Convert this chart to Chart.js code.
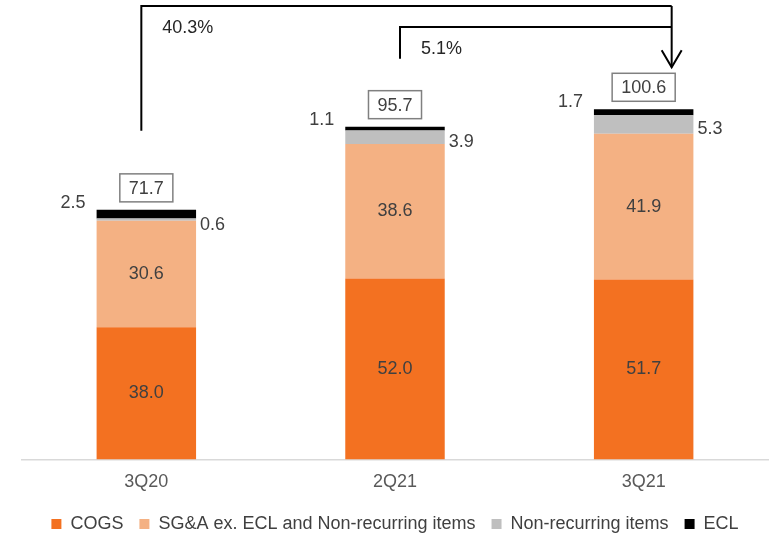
<!DOCTYPE html>
<html>
<head>
<meta charset="utf-8">
<script src="https://cdn.jsdelivr.net/npm/chart.js@4.4.0/dist/chart.umd.min.js"></script>
<style>
  html, body { margin: 0; padding: 0; background: #fff; }
  #wrap { width: 769px; height: 535px; position: relative; }
</style>
</head>
<body>
<div id="wrap"><canvas id="costChart"></canvas></div>
<script>
// Cost breakdown by quarter
const quarters = ['3Q20', '2Q21', '3Q21'];
const cogs = [38.0, 52.0, 51.7];
const sga = [30.6, 38.6, 41.9];
const nonRecurring = [0.6, 3.9, 5.3];
const ecl = [2.5, 1.1, 1.7];
const totals = [71.7, 95.7, 100.6];
// growth brackets: start quarter index and label (all end at the last quarter)
const growthFrom = [0, 1];
const growthLabels = ['40.3%', '5.1%'];

const FONT = '"Liberation Sans", Arial, sans-serif';
const LEGEND_SHIFT = 2;

const annotate = {
  id: 'annotate',
  afterUpdate(chart) {
    // nudge the legend row vertically without touching the plot area
    const lg = chart.legend;
    if (lg && !lg._nudged) {
      const orig = lg.draw.bind(lg);
      lg.draw = function () {
        this.ctx.save();
        this.ctx.translate(0, LEGEND_SHIFT);
        orig();
        this.ctx.restore();
      };
      lg._nudged = true;
    }
  },
  afterDatasetsDraw(chart) {
    const ctx = chart.ctx;
    const xs = chart.scales.x;
    const top = chart.chartArea.top;
    const cogsMeta = chart.getDatasetMeta(0);
    const sgaMeta = chart.getDatasetMeta(1);
    const nrMeta = chart.getDatasetMeta(2);
    const eclMeta = chart.getDatasetMeta(3);

    ctx.save();
    ctx.font = '18px ' + FONT;
    ctx.textBaseline = 'middle';

    // values inside the big segments
    [[cogsMeta, cogs], [sgaMeta, sga]].forEach(([meta, vals]) => {
      meta.data.forEach((bar, i) => {
        ctx.fillStyle = '#404040';
        ctx.textAlign = 'center';
        ctx.fillText(vals[i].toFixed(1), bar.x, (bar.y + bar.base) / 2);
      });
    });

    const boxTops = [];
    eclMeta.data.forEach((bar, i) => {
      const stackTop = bar.y;
      const left = bar.x - bar.width / 2;
      const right = bar.x + bar.width / 2;

      // ECL on the left
      ctx.fillStyle = '#404040';
      ctx.textAlign = 'right';
      ctx.fillText(ecl[i].toFixed(1), left - 11, stackTop - 7);

      // Non-recurring on the right
      const nr = nrMeta.data[i];
      ctx.textAlign = 'left';
      ctx.fillText(nonRecurring[i].toFixed(1), right + 4, (nr.y + nr.base) / 2 + 5);

      // boxed total
      const txt = totals[i].toFixed(1);
      const w = ctx.measureText(txt).width + 18;
      const h = 28;
      const by = stackTop - 8 - h;
      ctx.fillStyle = '#fff';
      ctx.fillRect(bar.x - w / 2, by, w, h);
      ctx.strokeStyle = '#808080';
      ctx.lineWidth = 1.5;
      ctx.strokeRect(bar.x - w / 2, by, w, h);
      ctx.fillStyle = '#404040';
      ctx.textAlign = 'center';
      ctx.fillText(txt, bar.x, by + h / 2 + 1);
      boxTops.push(by);
    });

    // growth brackets
    const endIdx = quarters.length - 1;
    const endX = xs.getPixelForValue(endIdx) + 28;
    const lineTops = [top + 6, top + 27];
    const startDrops = [43, 32];
    ctx.strokeStyle = '#000';
    ctx.lineWidth = 2;
    growthFrom.forEach((fi, k) => {
      const sx = xs.getPixelForValue(fi) + (k === 0 ? -5 : 5);
      const sy = boxTops[fi] - startDrops[k];
      ctx.beginPath();
      ctx.moveTo(sx, sy);
      ctx.lineTo(sx, lineTops[k]);
      ctx.lineTo(endX, lineTops[k]);
      ctx.stroke();
      ctx.fillStyle = '#262626';
      ctx.textAlign = 'left';
      ctx.fillText(growthLabels[k], sx + 21, lineTops[k] + 22);
    });
    const tipY = boxTops[endIdx] - 6;
    ctx.beginPath();
    ctx.moveTo(endX, lineTops[0]);
    ctx.lineTo(endX, tipY);
    ctx.stroke();
    ctx.beginPath();
    ctx.moveTo(endX - 10, tipY - 17);
    ctx.lineTo(endX, tipY);
    ctx.lineTo(endX + 10, tipY - 17);
    ctx.stroke();
    ctx.restore();
  }
};

const ctx = document.getElementById('costChart');
new Chart(ctx, {
  type: 'bar',
  data: {
    labels: quarters,
    datasets: [
      { label: 'COGS', data: cogs, backgroundColor: '#F37121' },
      { label: 'SG&A ex. ECL and Non-recurring items', data: sga, backgroundColor: '#F4B183' },
      { label: 'Non-recurring items', data: nonRecurring, backgroundColor: '#BFBFBF' },
      { label: 'ECL', data: ecl, backgroundColor: '#000000' }
    ]
  },
  options: {
    responsive: true,
    maintainAspectRatio: false,
    animation: false,
    layout: { padding: { left: 22, right: 1, top: 0, bottom: -6 } },
    datasets: {
      bar: { categoryPercentage: 1.0, barPercentage: 0.4, borderWidth: 0 }
    },
    plugins: {
      tooltip: { enabled: false },
      legend: {
        position: 'bottom',
        labels: {
          boxWidth: 10,
          boxHeight: 10,
          padding: 16,
          color: '#404040',
          font: { family: FONT, size: 18 }
        }
      }
    },
    scales: {
      x: {
        stacked: true,
        grid: { display: false },
        border: { color: '#D9D9D9', width: 1.5 },
        ticks: { color: '#595959', font: { family: FONT, size: 18 }, padding: 4 }
      },
      y: {
        stacked: true,
        display: false,
        min: 0,
        max: 132
      }
    }
  },
  plugins: [annotate]
});
</script>
</body>
</html>
